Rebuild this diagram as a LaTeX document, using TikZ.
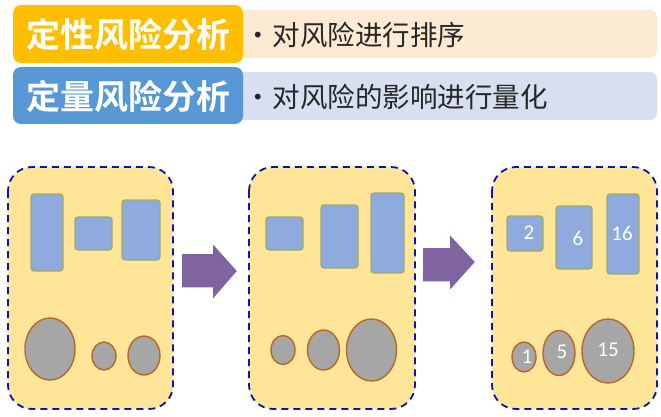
\documentclass[tikz,border=0pt]{standalone}
\usepackage{fontspec}
\setmainfont{Carlito}
\newfontfamily\cjk{Noto Sans CJK SC}
\newfontfamily\cjkb{Noto Sans CJK SC Bold}
\newfontfamily\numf{Carlito}
\usetikzlibrary{shapes.geometric}
\definecolor{orangeT}{HTML}{FFBF00}
\definecolor{blueT}{HTML}{5797D6}
\definecolor{peach}{HTML}{FDEAD2}
\definecolor{lightblueT}{HTML}{D7E0F1}
\definecolor{panelfill}{HTML}{FFE598}
\definecolor{panelline}{HTML}{0A14B4}
\definecolor{rectfill}{HTML}{8FAADC}
\definecolor{rectline}{HTML}{9EAA6A}
\definecolor{ellfill}{HTML}{A6A6A6}
\definecolor{ellline}{HTML}{B8672A}
\definecolor{arrowc}{HTML}{7F64A1}
\definecolor{txt}{HTML}{262626}
\tikzset{
  titlebox/.style={rounded corners=7pt, inner sep=0pt, text=white, font=\cjkb\fontsize{34}{34}\selectfont},
  descbar/.style={rounded corners=7pt},
  desctext/.style={anchor=west, inner sep=0pt, text=txt, font=\cjk\fontsize{27.5}{27.5}\selectfont},
  panel/.style={draw=panelline, fill=panelfill, dashed, dash pattern=on 7pt off 5pt, line width=1.8pt, rounded corners=24pt},
  riskrect/.style={draw=rectline, fill=rectfill, line width=1.3pt, rounded corners=3pt, inner sep=0pt},
  riskell/.style={ellipse, draw=ellline, fill=ellfill, line width=1.4pt, inner sep=0pt},
  numlab/.style={text=white, inner sep=0pt, font=\numf\fontsize{21}{21}\selectfont},
  blockarrow/.style={fill=arrowc, draw=white, line width=1.5pt, line join=miter},
}
\begin{document}
\begin{tikzpicture}[x=1pt,y=-1pt]
\useasboundingbox (0,0) rectangle (661,417);
\fill[white] (0,0) rectangle (661,417);
% top rows
\fill[peach, descbar] (200,10) rectangle (657,58);
\fill[lightblueT, descbar] (200,72) rectangle (657,120);
\fill[orangeT, rounded corners=8pt] (13,5) rectangle (243,63);
\fill[blueT, rounded corners=8pt] (13,67) rectangle (243,124);
\node[titlebox] (t1) at (128,34) {定性风险分析};
\node[titlebox] (t2) at (128,96) {定量风险分析};
\node[desctext] (d1) at (244,35) {•\hspace{1pt}对风险进行排序};
\node[desctext] (d2) at (244,97) {•\hspace{1pt}对风险的影响进行量化};
% panels
\draw[panel] (8,167) rectangle (173,409);
\draw[panel] (249,167) rectangle (415,409);
\draw[panel] (492,167) rectangle (657,409);
% panel 1
\node[riskrect, minimum width=32pt, minimum height=77pt] (r1a) at (47,232.5) {};
\node[riskrect, minimum width=37pt, minimum height=33pt] (r1b) at (93.5,233.5) {};
\node[riskrect, minimum width=38pt, minimum height=60pt] (r1c) at (141,230) {};
\node[riskell, minimum width=50pt, minimum height=62pt] (e1a) at (50,349) {};
\node[riskell, minimum width=24pt, minimum height=28pt] (e1b) at (104,356) {};
\node[riskell, minimum width=32pt, minimum height=39pt] (e1c) at (144,355.5) {};
% panel 2
\node[riskrect, minimum width=37pt, minimum height=33pt] (r2a) at (284.5,233.5) {};
\node[riskrect, minimum width=37pt, minimum height=63pt] (r2b) at (339.5,236.5) {};
\node[riskrect, minimum width=33pt, minimum height=80pt] (r2c) at (387.5,233) {};
\node[riskell, minimum width=24pt, minimum height=29pt] (e2a) at (283,350) {};
\node[riskell, minimum width=32pt, minimum height=40pt] (e2b) at (323.5,350) {};
\node[riskell, minimum width=50pt, minimum height=62pt] (e2c) at (371.5,350) {};
% panel 3
\node[riskrect, minimum width=36pt, minimum height=35pt] (r3a) at (525,233.5) {};
\node[riskrect, minimum width=36pt, minimum height=63pt] (r3b) at (574,237.5) {};
\node[riskrect, minimum width=32pt, minimum height=80pt] (r3c) at (623,234) {};
\node[riskell, minimum width=24pt, minimum height=30pt] (e3a) at (524,357) {};
\node[riskell, minimum width=32pt, minimum height=45pt] (e3b) at (559,353) {};
\node[riskell, minimum width=52pt, minimum height=64pt] (e3c) at (608,351) {};
\node[numlab] (n2) at (529,233) {2};
\node[numlab] (n6) at (578,238) {6};
\node[numlab] (n16) at (622,233) {16};
\node[numlab] (n1) at (527,357) {1};
\node[numlab] (n5) at (562,352) {5};
\node[numlab] (n15) at (608,350) {15};
% arrows
\draw[blockarrow] (181,253) -- (212,253) -- (212,242) -- (238,271) -- (212,301) -- (212,288) -- (181,288) -- cycle;
\draw[blockarrow] (422,247) -- (449,247) -- (449,233) -- (476,262) -- (449,292) -- (449,282) -- (422,282) -- cycle;
\end{tikzpicture}
\end{document}
